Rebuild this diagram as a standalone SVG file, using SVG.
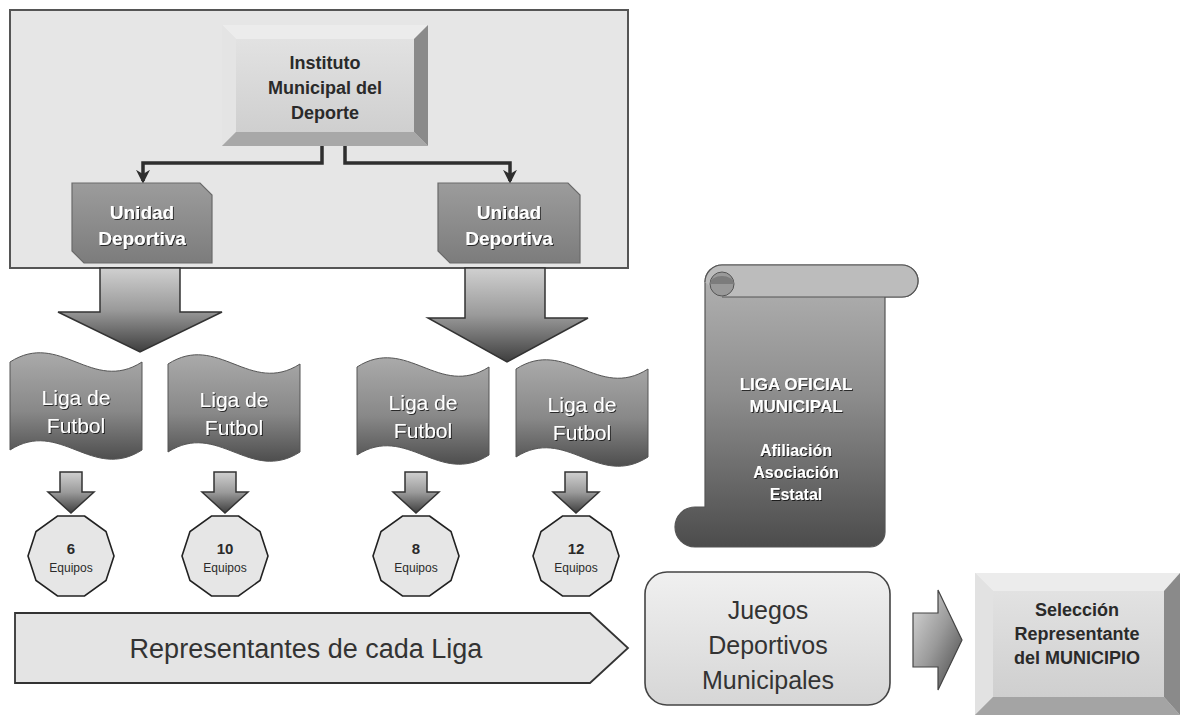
<svg xmlns="http://www.w3.org/2000/svg" width="1180" height="715" viewBox="0 0 1180 715">
<defs>
<style>
.t{font-family:"Liberation Sans",Arial,sans-serif;text-anchor:middle}
.b{font-weight:bold}
.w{fill:#fff}
.dk{fill:#2a2a2a}
.edge{stroke:#333;stroke-width:1.5}
.conn{fill:none;stroke:#2e2e2e;stroke-width:3.5}
.oct{fill:#e6e6e6;stroke:#222;stroke-width:1.6}
</style>
<linearGradient id="gArrow" x1="0" y1="0" x2="0" y2="1">
<stop offset="0" stop-color="#d0d0d0"/><stop offset="0.5" stop-color="#9a9a9a"/><stop offset="1" stop-color="#3e3e3e"/>
</linearGradient>
<linearGradient id="gWave" x1="0" y1="0" x2="0" y2="1">
<stop offset="0" stop-color="#aaaaaa"/><stop offset="0.55" stop-color="#888"/><stop offset="1" stop-color="#4e4e4e"/>
</linearGradient>
<linearGradient id="gUnit" x1="0" y1="0" x2="0" y2="1">
<stop offset="0" stop-color="#9c9c9c"/><stop offset="1" stop-color="#7c7c7c"/>
</linearGradient>
<linearGradient id="gScroll" x1="0" y1="0" x2="0" y2="1">
<stop offset="0" stop-color="#b4b4b4"/><stop offset="0.45" stop-color="#8e8e8e"/><stop offset="1" stop-color="#4c4c4c"/>
</linearGradient>
<linearGradient id="gFace" x1="0" y1="0" x2="0" y2="1">
<stop offset="0" stop-color="#e2e2e2"/><stop offset="1" stop-color="#cfcfcf"/>
</linearGradient>
<linearGradient id="gRound" x1="0" y1="0" x2="0" y2="1">
<stop offset="0" stop-color="#f0f0f0"/><stop offset="1" stop-color="#d6d6d6"/>
</linearGradient>
<linearGradient id="gRight" x1="0" y1="0" x2="1" y2="1">
<stop offset="0" stop-color="#dcdcdc"/><stop offset="0.5" stop-color="#9a9a9a"/><stop offset="1" stop-color="#444"/>
</linearGradient>
<filter id="sh" x="-10%" y="-10%" width="130%" height="130%">
<feDropShadow dx="1" dy="1" stdDeviation="0.6" flood-color="#000" flood-opacity="0.7"/>
</filter>
<marker id="ah" viewBox="0 0 10 10" refX="8" refY="5" markerWidth="4" markerHeight="4" orient="auto">
<path d="M0,0 L10,5 L0,10 L3,5 Z" fill="#2e2e2e"/>
</marker>
</defs>
<rect width="1180" height="715" fill="#fff"/>

<g id="container">
<rect x="10" y="10" width="618" height="258" fill="#e6e6e6" stroke="#555" stroke-width="2"/>
</g>

<g id="instituto">
<rect x="222" y="25" width="206" height="121" fill="url(#gFace)"/>
<polygon points="222,25 428,25 414,39 236,39" fill="#ececec"/>
<polygon points="222,25 236,39 236,132 222,146" fill="#e4e4e4"/>
<polygon points="428,25 428,146 414,132 414,39" fill="#8a8a8a"/>
<polygon points="222,146 428,146 414,132 236,132" fill="#a8a8a8"/>
<rect x="236" y="39" width="178" height="93" fill="url(#gFace)"/>
<text class="t b dk" font-size="18" x="325" y="69">Instituto</text>
<text class="t b dk" font-size="18" x="325" y="94">Municipal del</text>
<text class="t b dk" font-size="18" x="325" y="119">Deporte</text>
</g>

<g id="connectors">
<path class="conn" d="M322,146 V163 H143 V181" marker-end="url(#ah)"/>
<path class="conn" d="M345,146 V163 H510 V181" marker-end="url(#ah)"/>
</g>

<g id="unidad1">
<path d="M72,183 H200 L212,195 V263 H84 L72,251 Z" fill="url(#gUnit)" stroke="#6a6a6a" stroke-width="1.2"/>
<text class="t b w" font-size="19" x="142" y="219" filter="url(#sh)">Unidad</text>
<text class="t b w" font-size="19" x="142" y="245" filter="url(#sh)">Deportiva</text>
</g>
<g id="unidad2">
<path d="M438,183 H568 L580,195 V263 H450 L438,251 Z" fill="url(#gUnit)" stroke="#6a6a6a" stroke-width="1.2"/>
<text class="t b w" font-size="19" x="509" y="219" filter="url(#sh)">Unidad</text>
<text class="t b w" font-size="19" x="509" y="245" filter="url(#sh)">Deportiva</text>
</g>

<g id="bigarrow1">
<polygon points="100,268 180,268 180,312 222,312 140,352 58,312 100,312" fill="url(#gArrow)" class="edge"/>
</g>
<g id="bigarrow2">
<polygon points="465,268 545,268 545,318 588,318 507,362 428,318 465,318" fill="url(#gArrow)" class="edge"/>
</g>

<g id="liga1">
<path d="M10,362 C60,330 92,394 142,362 V450 C92,482 60,418 10,450 Z" fill="url(#gWave)" stroke="#555" stroke-width="1"/>
<text class="t w" font-size="21" x="76" y="405" filter="url(#sh)">Liga de</text>
<text class="t w" font-size="21" x="76" y="433" filter="url(#sh)">Futbol</text>
</g>
<g id="liga2">
<path d="M168,364 C218,332 250,396 300,364 V452 C250,484 218,420 168,452 Z" fill="url(#gWave)" stroke="#555" stroke-width="1"/>
<text class="t w" font-size="21" x="234" y="407" filter="url(#sh)">Liga de</text>
<text class="t w" font-size="21" x="234" y="435" filter="url(#sh)">Futbol</text>
</g>
<g id="liga3">
<path d="M357,367 C407,335 439,399 489,367 V455 C439,487 407,423 357,455 Z" fill="url(#gWave)" stroke="#555" stroke-width="1"/>
<text class="t w" font-size="21" x="423" y="410" filter="url(#sh)">Liga de</text>
<text class="t w" font-size="21" x="423" y="438" filter="url(#sh)">Futbol</text>
</g>
<g id="liga4">
<path d="M516,369 C566,337 598,401 648,369 V457 C598,489 566,425 516,457 Z" fill="url(#gWave)" stroke="#555" stroke-width="1"/>
<text class="t w" font-size="21" x="582" y="412" filter="url(#sh)">Liga de</text>
<text class="t w" font-size="21" x="582" y="440" filter="url(#sh)">Futbol</text>
</g>

<g id="flecha1"><polygon points="60,472 82,472 82,492 94,492 71,513 48,492 60,492" fill="url(#gArrow)" class="edge"/></g>
<g id="flecha2"><polygon points="214,472 236,472 236,492 248,492 225,513 202,492 214,492" fill="url(#gArrow)" class="edge"/></g>
<g id="flecha3"><polygon points="405,472 427,472 427,492 439,492 416,513 393,492 405,492" fill="url(#gArrow)" class="edge"/></g>
<g id="flecha4"><polygon points="565,472 587,472 587,492 599,492 576,513 553,492 565,492" fill="url(#gArrow)" class="edge"/></g>

<g id="equipos6">
<polygon class="oct" transform="translate(71,556)" points="13.5,-40 35,-24.5 43,0 35,24.5 13.5,40 -13.5,40 -35,24.5 -43,0 -35,-24.5 -13.5,-40"/>
<text class="t b dk" font-size="15" x="71" y="554">6</text>
<text class="t dk" font-size="12" x="71" y="572">Equipos</text>
</g>
<g id="equipos10">
<polygon class="oct" transform="translate(225,556)" points="13.5,-40 35,-24.5 43,0 35,24.5 13.5,40 -13.5,40 -35,24.5 -43,0 -35,-24.5 -13.5,-40"/>
<text class="t b dk" font-size="15" x="225" y="554">10</text>
<text class="t dk" font-size="12" x="225" y="572">Equipos</text>
</g>
<g id="equipos8">
<polygon class="oct" transform="translate(416,556)" points="13.5,-40 35,-24.5 43,0 35,24.5 13.5,40 -13.5,40 -35,24.5 -43,0 -35,-24.5 -13.5,-40"/>
<text class="t b dk" font-size="15" x="416" y="554">8</text>
<text class="t dk" font-size="12" x="416" y="572">Equipos</text>
</g>
<g id="equipos12">
<polygon class="oct" transform="translate(576,556)" points="13.5,-40 35,-24.5 43,0 35,24.5 13.5,40 -13.5,40 -35,24.5 -43,0 -35,-24.5 -13.5,-40"/>
<text class="t b dk" font-size="15" x="576" y="554">12</text>
<text class="t dk" font-size="12" x="576" y="572">Equipos</text>
</g>

<g id="representantes">
<polygon points="15,613 590,613 628,648 590,683 15,683" fill="#e4e4e4" stroke="#333" stroke-width="1.8"/>
<text class="t" font-size="27" fill="#333" x="306" y="658">Representantes de cada Liga</text>
</g>

<g id="liga-oficial">
<path d="M722,265 H902 A16,16 0 0 1 902,297 H885 V532 A15,15 0 0 1 870,547 H695 A20,20 0 0 1 695,507 H705 V282 A17,17 0 0 1 722,265 Z" fill="url(#gScroll)" stroke="#555" stroke-width="1.2"/>
<path d="M705,282 A17,17 0 0 1 722,265 H902 A16,16 0 0 1 902,297 H722" fill="#bcbcbc" stroke="#555" stroke-width="1.2"/>
<circle cx="722" cy="284" r="12" fill="#999" stroke="#555" stroke-width="1"/>
<path d="M710,284 A12,8 0 0 1 734,284" fill="#7c7c7c" stroke="none"/>
<text class="t b w" font-size="17" x="796" y="390" filter="url(#sh)">LIGA OFICIAL</text>
<text class="t b w" font-size="17" x="796" y="412" filter="url(#sh)">MUNICIPAL</text>
<text class="t b w" font-size="16" x="796" y="456" filter="url(#sh)">Afiliación</text>
<text class="t b w" font-size="16" x="796" y="478" filter="url(#sh)">Asociación</text>
<text class="t b w" font-size="16" x="796" y="500" filter="url(#sh)">Estatal</text>
</g>

<g id="juegos">
<rect x="645" y="572" width="245" height="133" rx="22" fill="url(#gRound)" stroke="#444" stroke-width="1.6"/>
<text class="t" font-size="25" fill="#333" x="768" y="619">Juegos</text>
<text class="t" font-size="25" fill="#333" x="768" y="654">Deportivos</text>
<text class="t" font-size="25" fill="#333" x="768" y="689">Municipales</text>
</g>

<g id="flecha-derecha">
<polygon points="913,613 938,613 938,590 962,640 938,690 938,667 913,667" fill="url(#gRight)" stroke="#444" stroke-width="1.2"/>
</g>

<g id="seleccion">
<rect x="975" y="573" width="205" height="142" fill="url(#gFace)"/>
<polygon points="975,573 1180,573 1164,591 993,591" fill="#ececec"/>
<polygon points="975,573 993,591 993,697 975,715" fill="#e2e2e2"/>
<polygon points="1180,573 1180,715 1164,697 1164,591" fill="#8a8a8a"/>
<polygon points="975,715 1180,715 1164,697 993,697" fill="#a4a4a4"/>
<rect x="993" y="591" width="171" height="106" fill="url(#gFace)"/>
<text class="t b dk" font-size="18" x="1077" y="616">Selección</text>
<text class="t b dk" font-size="18" x="1077" y="640">Representante</text>
<text class="t b dk" font-size="18" x="1077" y="664">del MUNICIPIO</text>
</g>
</svg>
